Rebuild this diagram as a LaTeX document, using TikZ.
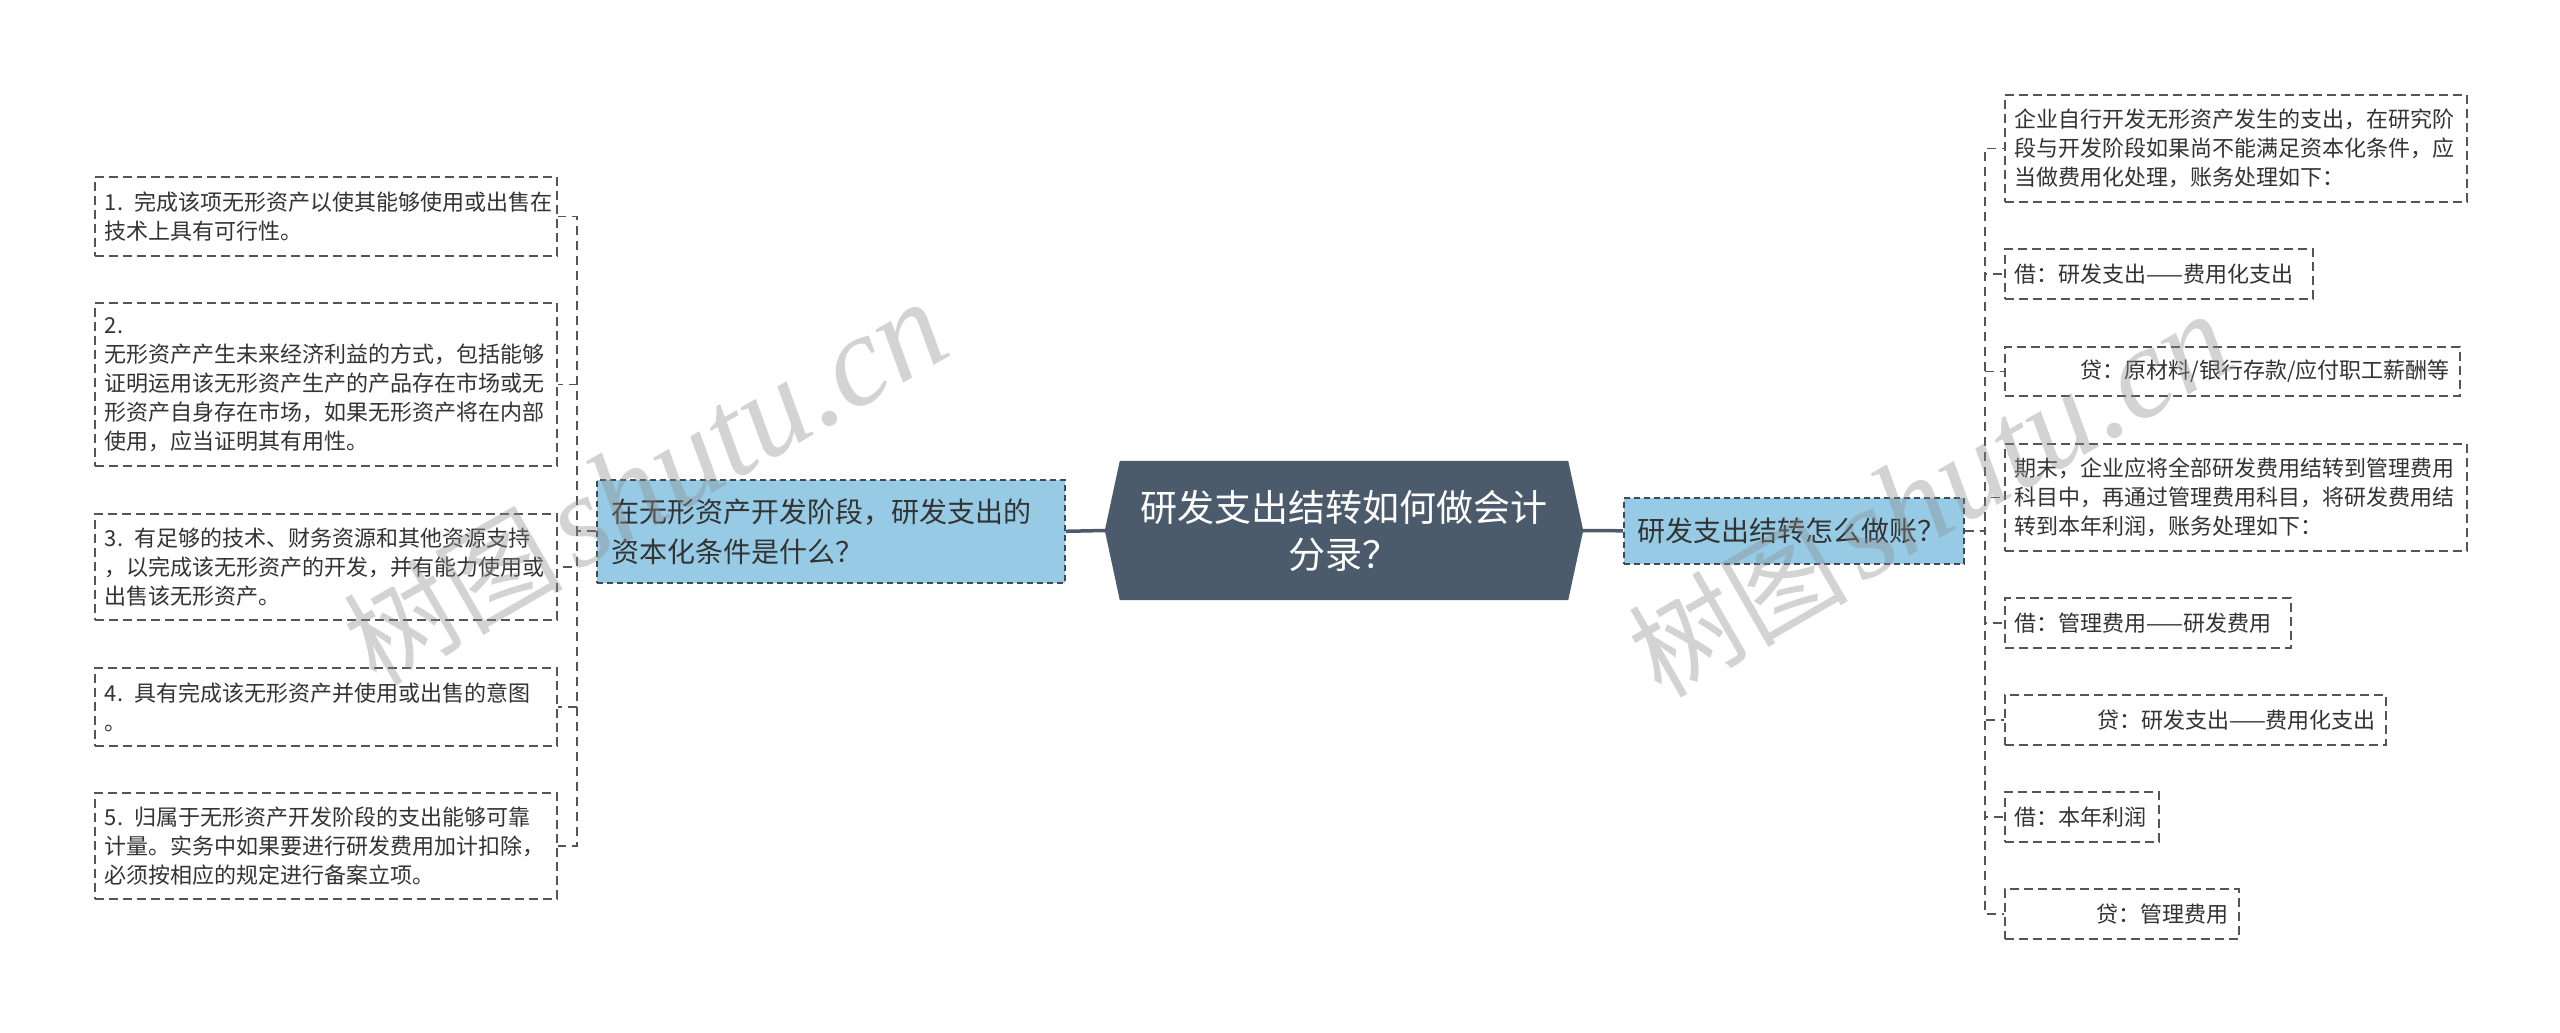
\documentclass[tikz,border=0pt]{standalone}
\usepackage{fontspec}
\setmainfont{Noto Sans CJK SC}
\newfontfamily\wmlatin{Liberation Serif}
\usepackage{tikz}
\usetikzlibrary{backgrounds}
\definecolor{rootc}{HTML}{4B5B6B}
\definecolor{bluec}{HTML}{97CBE5}
\definecolor{bluebd}{HTML}{3E4A56}
\definecolor{leafbd}{HTML}{555555}
\definecolor{textc}{HTML}{333333}
\definecolor{linkc}{HTML}{555555}
\newcommand\leaffont{\fontsize{22}{29}\selectfont}
\newcommand\topicfont{\fontsize{28}{40}\selectfont}
\newcommand\rootfont{\fontsize{37}{47}\selectfont}
\newcommand\wmtext{{\fontsize{110}{110}\selectfont 树图}\hspace{12pt}{\wmlatin\itshape\fontsize{130}{130}\selectfont shutu.cn}}
\begin{document}
\begin{tikzpicture}[x=1pt,y=-1pt,
  leaf/.style 2 args={draw=leafbd, line width=1.8pt, dash pattern=on 9pt off 5pt, fill=white, text=textc, font=\leaffont, anchor=north west, inner xsep=10pt, inner ysep=0pt, text width=#1, minimum height=#2, align=left},
  leafr/.style 2 args={leaf={#1}{#2}, align=right},
  topic/.style 2 args={draw=bluebd, line width=1.6pt, dash pattern=on 6pt off 4pt, fill=bluec, text=textc, font=\topicfont, anchor=north west, inner ysep=0pt, text width=#1, minimum height=#2, align=left},
  link/.style={draw=linkc, line width=1.8pt, dash pattern=on 9pt off 6pt},
  trunk/.style={draw=rootc, line width=3.5pt},
  wm/.style={rotate=30, text=black!45, opacity=0.38, inner sep=0pt}]
\useasboundingbox (0,0) rectangle (2560,1033);

\node [text=white, font=\rootfont, align=center, minimum width=448pt, minimum height=139pt, inner sep=0pt] (root) at (1344,530.5) {研发支出结转如何做会计\\分录？};
\coordinate (rootW) at ([xshift=-15pt]root.west);
\coordinate (rootE) at ([xshift=15pt]root.east);
\begin{scope}[on background layer]
\fill [white] (0,0) rectangle (2560,1033);
\fill [rootc] (root.north west) -- (root.north east) -- (rootE) -- (root.south east) -- (root.south west) -- (rootW) -- cycle;
\end{scope}

\node [topic={438pt}{103pt}, inner xsep=15pt] (lq) at (596,479) {在无形资产开发阶段，研发支出的\\资本化条件是什么？};
\node [topic={312pt}{66pt}, inner xsep=14pt] (rq) at (1623,497) {研发支出结转怎么做账？};

\node [leaf={442pt}{79pt}] (l1) at (94,176) {1. 完成该项无形资产以使其能够使用或出售在\\技术上具有可行性。};
\node [leaf={442pt}{163pt}] (l2) at (94,302) {2.\\无形资产产生未来经济利益的方式，包括能够\\证明运用该无形资产生产的产品存在市场或无\\形资产自身存在市场，如果无形资产将在内部\\使用，应当证明其有用性。};
\node [leaf={442pt}{106pt}] (l3) at (94,513) {3. 有足够的技术、财务资源和其他资源支持\\，以完成该无形资产的开发，并有能力使用或\\出售该无形资产。};
\node [leaf={442pt}{78pt}] (l4) at (94,667) {4. 具有完成该无形资产并使用或出售的意图\\。};
\node [leaf={442pt}{106pt}] (l5) at (94,792) {5. 归属于无形资产开发阶段的支出能够可靠\\计量。实务中如果要进行研发费用加计扣除，\\必须按相应的规定进行备案立项。};

\node [leaf={442pt}{107pt}] (r1) at (2004,94) {企业自行开发无形资产发生的支出，在研究阶\\段与开发阶段如果尚不能满足资本化条件，应\\当做费用化处理，账务处理如下：};
\node [leaf={288pt}{50pt}] (r2) at (2004,248) {借：研发支出——费用化支出};
\node [leafr={435pt}{49pt}] (r3) at (2004,346) {贷：原材料/银行存款/应付职工薪酬等};
\node [leaf={442pt}{107pt}] (r4) at (2004,443) {期末，企业应将全部研发费用结转到管理费用\\科目中，再通过管理费用科目，将研发费用结\\转到本年利润，账务处理如下：};
\node [leaf={266pt}{50pt}] (r5) at (2004,597) {借：管理费用——研发费用};
\node [leafr={361pt}{50pt}] (r6) at (2004,694) {贷：研发支出——费用化支出};
\node [leaf={134pt}{50pt}] (r7) at (2004,791) {借：本年利润};
\node [leafr={214pt}{50pt}] (r8) at (2004,888) {贷：管理费用};

\draw [trunk] (lq.east) -- (rootW);
\draw [trunk] (rootE) -- (rq.west);

\draw [link] (lq.west) -- ++(-19,0) |- (l1.east);
\draw [link] (lq.west) -- ++(-19,0) |- (l2.east);
\draw [link] (lq.west) -- ++(-19,0) |- (l3.east);
\draw [link] (lq.west) -- ++(-19,0) |- (l4.east);
\draw [link] (lq.west) -- ++(-19,0) |- (l5.east);

\draw [link] (rq.east) -- ++(20,0) |- (r1.west);
\draw [link] (rq.east) -- ++(20,0) |- (r2.west);
\draw [link] (rq.east) -- ++(20,0) |- (r3.west);
\draw [link] (rq.east) -- ++(20,0) |- (r4.west);
\draw [link] (rq.east) -- ++(20,0) |- (r5.west);
\draw [link] (rq.east) -- ++(20,0) |- (r6.west);
\draw [link] (rq.east) -- ++(20,0) |- (r7.west);
\draw [link] (rq.east) -- ++(20,0) |- (r8.west);

\node [wm] (wmL) at (645,484) {\wmtext};
\node [wm] (wmR) at (1930,496) {\wmtext};
\end{tikzpicture}
\end{document}
